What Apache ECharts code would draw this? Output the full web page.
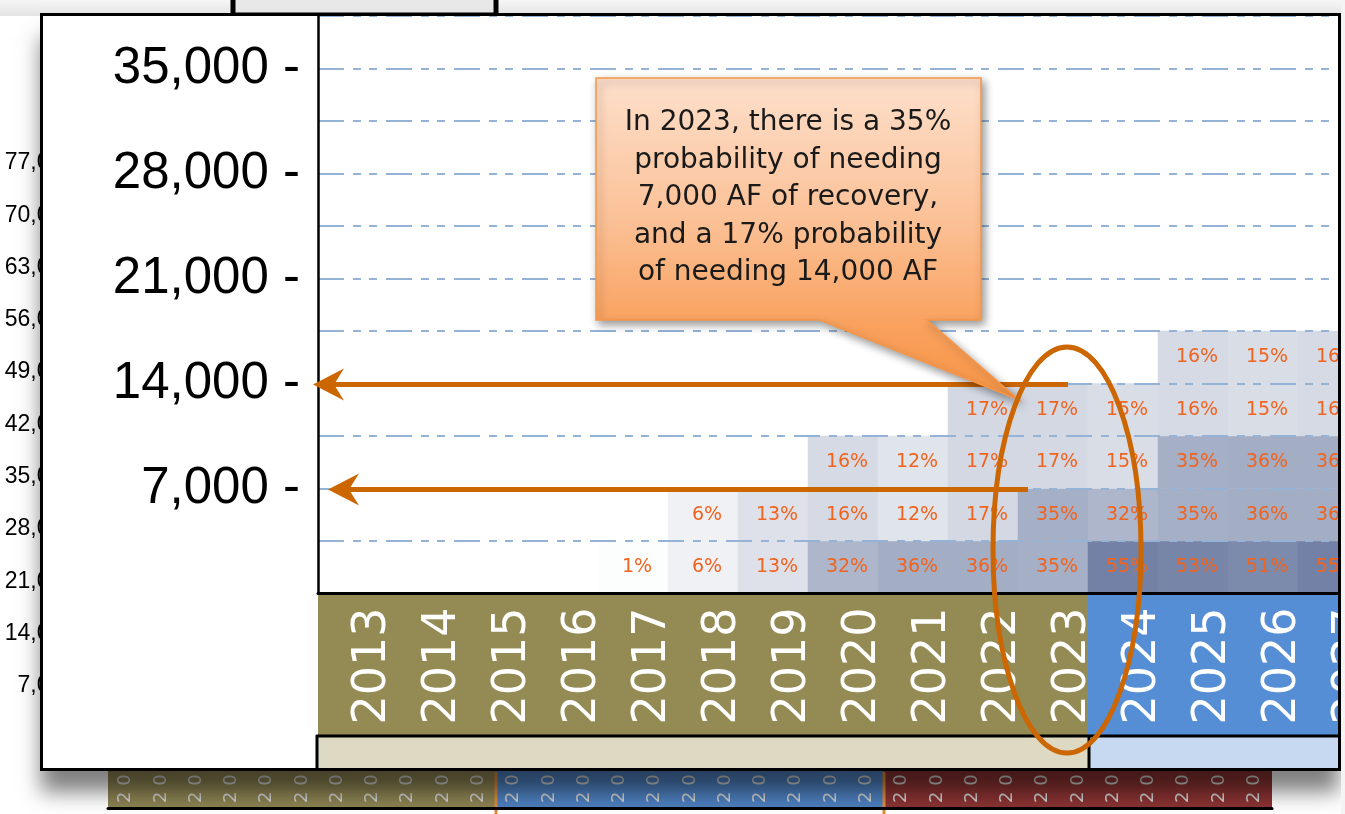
<!DOCTYPE html>
<html><head><meta charset="utf-8">
<script src="https://cdn.jsdelivr.net/npm/echarts@6.0.0/dist/echarts.min.js"></script>
<style>html,body{margin:0;padding:0;background:#fff}#c{width:1345px;height:814px}</style>
</head><body><div id="c"></div>
<script>
// ---------- data ----------
const years = ['2013','2014','2015','2016','2017','2018','2019','2020','2021','2022','2023','2024','2025','2026','2027'];
const bins = ['0-3,500','3,500-7,000','7,000-10,500','10,500-14,000','14,000-17,500','17,500-21,000','21,000-24,500','24,500-28,000','28,000-31,500','31,500-35,000','35,000-38,500'];
// probability (%) per year, one array per recovery bin (bottom row first)
const bin0 = [null,null,null,null,1,6,13,32,36,36,35,55,53,51,55];
const bin1 = [null,null,null,null,null,6,13,16,12,17,35,32,35,36,36];
const bin2 = [null,null,null,null,null,null,null,16,12,17,17,15,35,36,36];
const bin3 = [null,null,null,null,null,null,null,null,null,17,17,15,16,15,16];
const bin4 = [null,null,null,null,null,null,null,null,null,null,null,null,16,15,16];
const yTickStep = 7000;
const yMax = 38500;
const backTickStep = 7000;
const backMax = 77000;
const backYears = ['2013','2014','2015','2016','2017','2018','2019','2020','2021','2022','2023','2024','2025','2026','2027','2028','2029','2030','2031','2032','2033','2034','2035','2036','2037','2038','2039','2040','2041','2042','2043','2044','2045'];
const calloutText = 'In 2023, there is a 35%\nprobability of needing\n7,000 AF of recovery,\nand a 17% probability\nof needing 14,000 AF';
const arrowValues = [14000, 7000];

const heat = [];
[bin0, bin1, bin2, bin3, bin4].forEach((row, yi) => row.forEach((v, xi) => { if (v != null) heat.push([xi, yi, v]); }));

const chart = echarts.init(document.getElementById('c'), null, {renderer: 'canvas'});
const fmtBig = v => (v > 0 && v % yTickStep === 0) ? v.toLocaleString('en-US') + ' -' : '';
const fmtBack = v => (v > 0) ? v.toLocaleString('en-US') : '';
const fmtSpaced = v => String(v).split('').join(' ');

const option = {
  animation: false,
  backgroundColor: '#ffffff',
  grid: [
    {left: 318, top: 16, width: 1050, height: 577.5, outerBoundsMode: 'none', containLabel: false},
    {left: 76, top: 163, width: 200, height: 575, outerBoundsMode: 'none', containLabel: false},
    {left: 108, top: 760, width: 1164, height: 48, outerBoundsMode: 'none', containLabel: false}
  ],
  xAxis: [
    {gridIndex: 0, type: 'category', data: years, position: 'bottom', z: 6,
     axisLine: {show: true, lineStyle: {color: '#000', width: 3}}, axisTick: {show: false},
     axisLabel: {interval: 0, rotate: 90, color: '#fff', fontSize: 46, fontFamily: 'DejaVu Sans', margin: 14,
                 verticalAlign: 'top', lineHeight: 40},
     splitLine: {show: false}},
    {gridIndex: 1, type: 'value', min: 0, max: 1, show: false},
    {gridIndex: 2, type: 'category', data: backYears, position: 'bottom', z: 1,
     axisLine: {show: true, lineStyle: {color: '#000', width: 3}}, axisTick: {show: false},
     axisLabel: {interval: 0, inside: true, rotate: 90, color: '#d2d2d2', fontSize: 18, fontFamily: 'DejaVu Sans', margin: 5, formatter: fmtSpaced},
     splitLine: {show: false}}
  ],
  yAxis: [
    {gridIndex: 0, type: 'category', data: bins, z: 6,
     axisLine: {show: false}, axisTick: {show: false}, axisLabel: {show: false},
     splitLine: {show: true, lineStyle: {color: '#95b3d7', width: 2, type: [26, 9, 8, 8, 8, 9]}}},
    {gridIndex: 0, type: 'value', min: 0, max: yMax, interval: yTickStep, position: 'left', z: 6,
     axisLine: {show: true, onZero: false, lineStyle: {color: '#000', width: 2.5}}, axisTick: {show: false}, splitLine: {show: false},
     axisLabel: {margin: 18, fontSize: 51, color: '#000', fontFamily: 'Liberation Sans', formatter: fmtBig}},
    {gridIndex: 1, type: 'value', min: 0, max: backMax, interval: backTickStep, position: 'left', z: 1,
     axisLine: {show: false}, axisTick: {show: false}, splitLine: {show: false},
     axisLabel: {margin: 1, fontSize: 23, color: '#000', fontFamily: 'Liberation Sans', formatter: fmtBack}},
    {gridIndex: 2, type: 'value', min: 0, max: 1, show: false}
  ],
  visualMap: {show: false, type: 'continuous', min: 0, max: 55, dimension: 2, seriesIndex: 0,
              inRange: {color: ['#ffffff', '#7281a5']}},
  series: [{
    type: 'heatmap', xAxisIndex: 0, yAxisIndex: 0, data: heat, z: 5,
    label: {show: true, formatter: p => p.value[2] + '%', color: '#f06420', fontSize: 19, fontFamily: 'DejaVu Sans', offset: [4, 0]},
    itemStyle: {borderWidth: 0},
    emphasis: {disabled: true}
  }]
};
chart.setOption(option);

// ---------- decorations (placed from the axes) ----------
const px = (i, v) => chart.convertToPixel({xAxisIndex: i}, v);
const py = (i, v) => chart.convertToPixel({yAxisIndex: i}, v);
const colW = px(0, years[1]) - px(0, years[0]);
const gridL = px(0, years[0]) - colW / 2;
const split = px(0, '2023') + colW / 2;
const plotBottom = py(1, 0);
const bw = px(2, backYears[1]) - px(2, backYears[0]);
const bL = px(2, backYears[0]) - bw / 2;
const b1 = px(2, backYears[10]) + bw / 2;
const b2 = px(2, backYears[21]) + bw / 2;
const bR = px(2, backYears[32]) + bw / 2;
const ORANGE = '#cc6600';

const g = [];
// soft grey backdrop behind the slide frame
g.push({type: 'rect', z: 0, shape: {x: 0, y: 0, width: 1345, height: 16}, style: {fill: {type: 'linear', x: 0, y: 0, x2: 0, y2: 1, colorStops: [{offset: 0, color: '#f6f6f6'}, {offset: 1, color: '#e4e4e4'}]}}});
// back (behind frame) elements
g.push({type: 'rect', z: 0, shape: {x: 233, y: -6, width: 263, height: 21}, style: {fill: '#e8e8e8', stroke: '#000', lineWidth: 5}});
g.push({type: 'rect', z: 0, shape: {x: bL, y: 760, width: b1 - bL, height: 48}, style: {fill: '#8c8352'}});
g.push({type: 'rect', z: 0, shape: {x: b1, y: 760, width: b2 - b1, height: 48}, style: {fill: '#4d80bf'}});
g.push({type: 'rect', z: 0, shape: {x: b2, y: 760, width: bR - b2, height: 48}, style: {fill: '#8a3232'}});
g.push({type: 'line', z: 1, shape: {x1: b1, y1: 772, x2: b1, y2: 814}, style: {stroke: '#e08a3a', lineWidth: 3}});
g.push({type: 'line', z: 1, shape: {x1: b2, y1: 772, x2: b2, y2: 814}, style: {stroke: '#e08a3a', lineWidth: 3}});
// frame fill with shadow
g.push({type: 'rect', z: 2, shape: {x: 41.5, y: 14.5, width: 1298, height: 755},
        style: {fill: '#ffffff', shadowBlur: 20, shadowColor: 'rgba(0,0,0,0.5)', shadowOffsetX: -1, shadowOffsetY: 22}});
// year band
g.push({type: 'rect', z: 3, shape: {x: gridL, y: plotBottom, width: split - gridL, height: 735 - plotBottom}, style: {fill: '#948a54'}});
g.push({type: 'rect', z: 3, shape: {x: split, y: plotBottom, width: 1345 - split, height: 735 - plotBottom}, style: {fill: '#558ed5'}});
g.push({type: 'rect', z: 3, shape: {x: gridL, y: 735, width: split - gridL, height: 35}, style: {fill: '#ddd9c3'}});
g.push({type: 'rect', z: 3, shape: {x: split, y: 735, width: 1345 - split, height: 35}, style: {fill: '#c6d9f1'}});
g.push({type: 'line', z: 7, shape: {x1: gridL - 2, y1: 736, x2: 1341, y2: 736}, style: {stroke: '#000', lineWidth: 3}});
g.push({type: 'line', z: 7, shape: {x1: gridL - 1, y1: 735, x2: gridL - 1, y2: 770}, style: {stroke: '#000', lineWidth: 3}});
g.push({type: 'line', z: 7, shape: {x1: split + 1, y1: 735, x2: split + 1, y2: 770}, style: {stroke: '#000', lineWidth: 3}});
// arrows to 14,000 and 7,000
const arrowTips = [313, 328];
const arrowEnds = [1068, 1028];
arrowValues.forEach((v, i) => {
  const y = py(1, v) + 1;
  const t = arrowTips[i];
  g.push({type: 'line', z: 7, shape: {x1: t + 20, y1: y, x2: arrowEnds[i], y2: y}, style: {stroke: ORANGE, lineWidth: 5}});
  g.push({type: 'polygon', z: 7, shape: {points: [[t, y], [t + 31, y - 16], [t + 21, y], [t + 31, y + 16]]}, style: {fill: ORANGE}});
});
// callout
g.push({type: 'polygon', z: 8,
  shape: {points: [[596, 78], [981, 78], [981, 320], [927, 320], [1019, 400], [820, 320], [596, 320]]},
  style: {fill: {type: 'linear', x: 0, y: 0, x2: 0, y2: 1, colorStops: [
            {offset: 0, color: '#fde0cc'}, {offset: 0.45, color: '#fbc095'}, {offset: 0.78, color: '#f9a05c'}, {offset: 1, color: '#f79646'}]},
          stroke: '#f79646', lineWidth: 1.5,
          shadowBlur: 8, shadowColor: 'rgba(0,0,0,0.4)', shadowOffsetX: 3, shadowOffsetY: 4}});
g.push({type: 'text', z: 8, x: 788, y: 198,
  style: {text: calloutText, fontSize: 28, fontFamily: 'DejaVu Sans', fill: '#1a1a1a', align: 'center', verticalAlign: 'middle',
          textAlign: 'center', textVerticalAlign: 'middle', lineHeight: 37.5}});
// ellipse around 2023
g.push({type: 'ellipse', z: 8, shape: {cx: 1067, cy: 550, rx: 74, ry: 203}, style: {fill: null, stroke: ORANGE, lineWidth: 5}});
// edge cover and frame border
g.push({type: 'rect', z: 9, shape: {x: 1341, y: 0, width: 4, height: 814}, style: {fill: '#f4f4f4'}});
g.push({type: 'rect', z: 9, shape: {x: 41.5, y: 14.5, width: 1298, height: 755}, style: {fill: null, stroke: '#000', lineWidth: 3}});

chart.setOption({graphic: {elements: g}});
</script></body></html>
